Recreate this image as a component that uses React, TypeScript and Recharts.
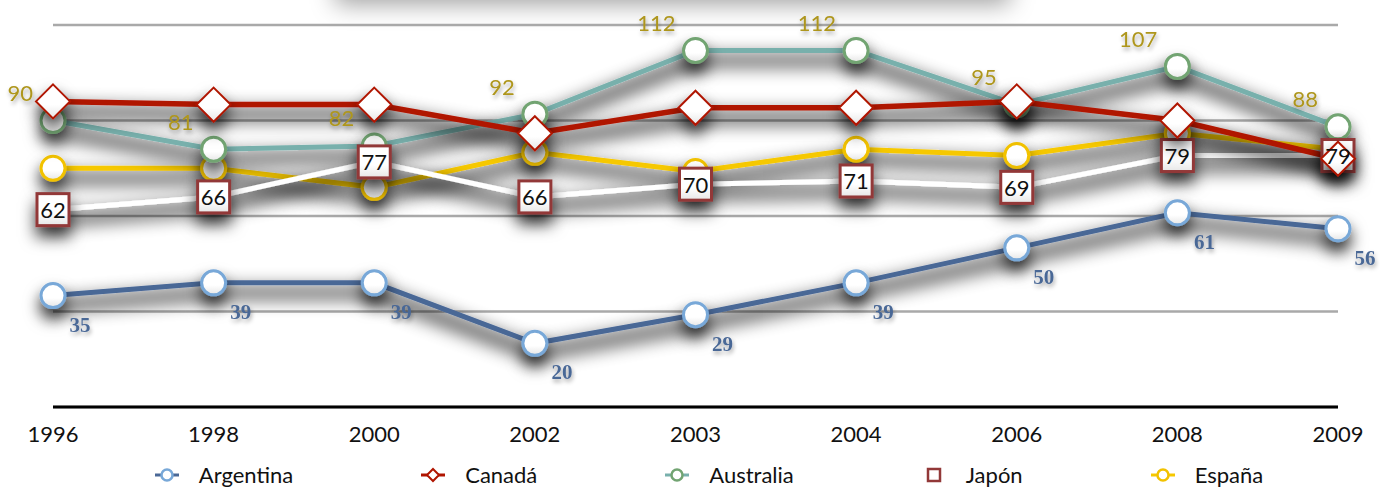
import React from 'react';
import { LineChart, Line, XAxis, YAxis, CartesianGrid, LabelList } from 'recharts';

const years = ['1996', '1998', '2000', '2002', '2003', '2004', '2006', '2008', '2009'];
const argentina = [35, 39, 39, 20, 29, 39, 50, 61, 56];
const canada = [96, 95, 95, 86, 94, 94, 96, 90, 78];
const australia = [90, 81, 82, 92, 112, 112, 95, 107, 88];
const japon = [62, 66, 77, 66, 70, 71, 69, 79, 79];
const espana = [75, 75, 69, 80, 74, 81, 79, 86, 81];
const yTicks = [0, 30, 60, 90, 120];

const data = years.map((year, i) => ({
  year,
  argentina: argentina[i],
  canada: canada[i],
  australia: australia[i],
  japon: japon[i],
  espana: espana[i],
}));

const SANS = 'Lato, "Open Sans", sans-serif';

const C = {
  argLine: '#4a6896',
  argMark: '#78a8d8',
  canLine: '#b01500',
  ausLine: '#78b0ac',
  ausMark: '#72a472',
  ausText: '#ae961c',
  japMark: '#923838',
  espLine: '#f6c800',
  espMark: '#f2c200',
};

const SHADOW = 'url(#dropShadow)';

const circleDot = (stroke: string) => (props: any) => {
  const { cx, cy, index } = props;
  if (cx == null || cy == null) return <g key={index} />;
  return <circle key={index} cx={cx} cy={cy} r={12} fill="url(#markerFill)" stroke={stroke} strokeWidth={3} filter={SHADOW} />;
};

const diamondDot = (props: any) => {
  const { cx, cy, index } = props;
  if (cx == null || cy == null) return <g key={index} />;
  const s = 17;
  return (
    <path
      key={index}
      d={`M${cx},${cy - s}L${cx + s},${cy}L${cx},${cy + s}L${cx - s},${cy}Z`}
      fill="url(#markerFill)"
      stroke={C.canLine}
      strokeWidth={2}
      filter={SHADOW}
    />
  );
};

const squareDot = (props: any) => {
  const { cx, cy, index } = props;
  if (cx == null || cy == null) return <g key={index} />;
  const s = 16;
  return (
    <rect key={index} x={cx - s} y={cy - s} width={2 * s} height={2 * s} fill="url(#markerFill)" stroke={C.japMark} strokeWidth={3} filter={SHADOW} />
  );
};

const pt = (p: any) => {
  const x = p.x ?? p.viewBox?.x;
  const y = p.y ?? p.viewBox?.y;
  return { x: Number(x), y: Number(y) };
};

const argLabel = (p: any) => {
  const { x, y } = pt(p);
  return (
    <text key={p.index} x={x + 27} y={y + 29} textAnchor="middle" dominantBaseline="central" filter="url(#textShadow)"
      fontFamily='"Liberation Serif", serif' fontWeight="bold" fontSize={21} fill={C.argLine}>
      {p.value}
    </text>
  );
};

const ausLabel = (p: any) => {
  const { x, y } = pt(p);
  return (
    <text key={p.index} x={x - 20} y={y - 28} textAnchor="end" dominantBaseline="central" filter="url(#textShadow)"
      fontFamily={SANS} fontSize={22} fill={C.ausText}>
      {p.value}
    </text>
  );
};

const japLabel = (p: any) => {
  const { x, y } = pt(p);
  return (
    <text key={p.index} x={x} y={y} textAnchor="middle" dominantBaseline="central"
      fontFamily={SANS} fontSize={22} fill="#111">
      {p.value}
    </text>
  );
};

const legendItems = [
  { name: 'Argentina', line: C.argLine, mark: C.argMark, shape: 'circle' },
  { name: 'Canadá', line: C.canLine, mark: C.canLine, shape: 'diamond' },
  { name: 'Australia', line: C.ausLine, mark: C.ausMark, shape: 'circle' },
  { name: 'Japón', line: '#ffffff', mark: C.japMark, shape: 'square' },
  { name: 'España', line: C.espLine, mark: C.espMark, shape: 'circle' },
];

const LegendIcon = ({ line, mark, shape }: { line: string; mark: string; shape: string }) => (
  <svg width={24} height={16} style={{ display: 'block' }}>
    <line x1={0} y1={8} x2={24} y2={8} stroke={line} strokeWidth={3} />
    {shape === 'circle' && <circle cx={12} cy={8} r={5.5} fill="#fff" stroke={mark} strokeWidth={2.5} />}
    {shape === 'diamond' && <path d="M12,2L18,8L12,14L6,8Z" fill="#fff" stroke={mark} strokeWidth={2} />}
    {shape === 'square' && <rect x={6} y={2} width={12} height={12} fill="#fff" stroke={mark} strokeWidth={2.5} />}
  </svg>
);

export default function App() {
  return (
    <div style={{ position: 'absolute', left: 0, top: 0, width: 1380, height: 490, overflow: 'hidden', background: '#fff' }}>
      <style>{`.recharts-line-curve { filter: url(#lineShadow); }`}</style>
      <svg width={0} height={0} style={{ position: 'absolute' }}>
        <defs>
          <filter id="lineShadow" filterUnits="userSpaceOnUse" x={0} y={0} width={1380} height={490}>
            <feMorphology in="SourceAlpha" operator="dilate" radius={3} result="fat" />
            <feGaussianBlur in="fat" stdDeviation={9} result="blur" />
            <feOffset in="blur" dx={0} dy={10} result="off" />
            <feComponentTransfer in="off" result="shade">
              <feFuncA type="linear" slope={0.75} />
            </feComponentTransfer>
            <feMerge>
              <feMergeNode in="shade" />
              <feMergeNode in="SourceGraphic" />
            </feMerge>
          </filter>
          <filter id="dropShadow" filterUnits="userSpaceOnUse" x={0} y={0} width={1380} height={490}>
            <feDropShadow dx={0} dy={10} stdDeviation={8} floodColor="#000" floodOpacity={0.75} />
          </filter>
          <filter id="textShadow" filterUnits="userSpaceOnUse" x={0} y={0} width={1380} height={490}>
            <feDropShadow dx={1} dy={3} stdDeviation={2} floodColor="#000" floodOpacity={0.35} />
          </filter>
          <linearGradient id="markerFill" x1="0" y1="0" x2="0" y2="1">
            <stop offset="0%" stopColor="#ffffff" />
            <stop offset="60%" stopColor="#ffffff" />
            <stop offset="100%" stopColor="#e6e6e6" />
          </linearGradient>
        </defs>
      </svg>
      {/* shadow of the header panel above the plot */}
      <div style={{ position: 'absolute', top: -60, left: 345, width: 655, height: 54, background: '#fff', boxShadow: '0 0 24px 10px rgba(0,0,0,0.38)' }} />
      <LineChart width={1380} height={490} data={data} margin={{ top: 25, right: 42, bottom: 53, left: 53 }}>
        <CartesianGrid vertical={false} stroke="#a9a9a9" strokeWidth={2.5} />
        <XAxis
          dataKey="year"
          height={30}
          interval={0}
          padding={{ left: 0, right: 0 }}
          tickLine={false}
          axisLine={{ stroke: '#000', strokeWidth: 3 }}
          tickMargin={13}
          tick={{ fontSize: 22, fontFamily: SANS, fill: '#111' }}
        />
        <YAxis hide domain={[0, 120]} ticks={yTicks} />
        <Line dataKey="argentina" stroke={C.argLine} strokeWidth={5} dot={circleDot(C.argMark)} isAnimationActive={false}>
          <LabelList dataKey="argentina" content={argLabel} />
        </Line>
        <Line dataKey="espana" stroke={C.espLine} strokeWidth={5} dot={circleDot(C.espMark)} isAnimationActive={false} />
        <Line dataKey="australia" stroke={C.ausLine} strokeWidth={5} dot={circleDot(C.ausMark)} isAnimationActive={false}>
          <LabelList dataKey="australia" content={ausLabel} />
        </Line>
        <Line dataKey="japon" stroke="#ffffff" strokeWidth={5} dot={squareDot} isAnimationActive={false}>
          <LabelList dataKey="japon" content={japLabel} />
        </Line>
        <Line dataKey="canada" stroke={C.canLine} strokeWidth={5.5} dot={diamondDot} isAnimationActive={false} />
      </LineChart>
      <div style={{ position: 'absolute', left: 0, top: 459, width: 1380, display: 'flex', justifyContent: 'center', gap: 128, paddingLeft: 38, boxSizing: 'border-box' }}>
        {legendItems.map((it) => (
          <div key={it.name} style={{ display: 'flex', alignItems: 'center', gap: 20 }}>
            <LegendIcon line={it.line} mark={it.mark} shape={it.shape} />
            <span style={{ fontFamily: SANS, fontSize: 22, color: '#111', lineHeight: '32px' }}>{it.name}</span>
          </div>
        ))}
      </div>
    </div>
  );
}
